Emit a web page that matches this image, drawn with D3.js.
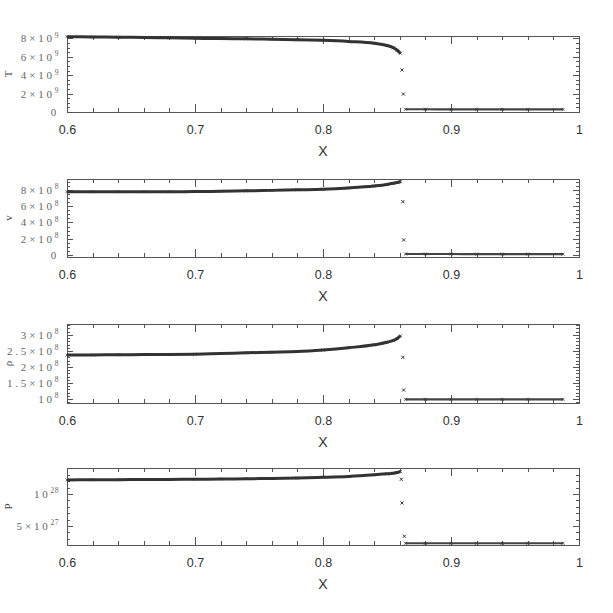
<!DOCTYPE html>
<html>
<head>
<meta charset="utf-8">
<script src="https://cdn.jsdelivr.net/npm/d3@7"></script>
<style>
  body { margin: 0; background: #fff; }
  .frame { fill: none; stroke: #555; stroke-width: 1; shape-rendering: crispEdges; }
  .tick line { stroke: #555; shape-rendering: crispEdges; }
  .xlab { font-family: "Liberation Sans", Arial, sans-serif; font-size: 12.5px; fill: #333; }
  .ylab { font-family: "Liberation Serif", "DejaVu Serif", serif; font-size: 11px; fill: #666; letter-spacing: 2.8px; }
  .title { font-family: "Liberation Sans", Arial, sans-serif; font-size: 14px; fill: #333; }
  .ytitle { font-family: "Liberation Serif", serif; font-size: 11px; fill: #444; }
</style>
</head>
<body>
<svg id="chart" width="613" height="613"></svg>
<script>
// x axis
var xMajor = [0.6, 0.7, 0.8, 0.9, 1.0];
var xTickLabels = ['0.6', '0.7', '0.8', '0.9', '1'];

// sample positions
var preX = [0.600, 0.620, 0.640, 0.660, 0.680, 0.700, 0.720, 0.740, 0.760, 0.780, 0.800, 0.820, 0.840, 0.850, 0.855, 0.858, 0.8605];
var postX = [0.8645, 0.880, 0.900, 0.920, 0.940, 0.960, 0.9875];

// T
var tPre = [8.18e9, 8.15e9, 8.12e9, 8.09e9, 8.05e9, 8.00e9, 7.97e9, 7.94e9, 7.90e9, 7.85e9, 7.78e9, 7.66e9, 7.47e9, 7.22e9, 6.97e9, 6.70e9, 6.37e9];
var tShockX = [0.8617, 0.8628];
var tShock = [4.56e9, 1.95e9];
var tPost = [0.30e9, 0.30e9, 0.29e9, 0.29e9, 0.29e9, 0.28e9, 0.28e9];
var tMajor = [0, 2e9, 4e9, 6e9, 8e9];
var tLabels = [['0', ''], ['2×10', '9'], ['4×10', '9'], ['6×10', '9'], ['8×10', '9']];

// v
var vPre = [7.79e8, 7.79e8, 7.79e8, 7.79e8, 7.79e8, 7.80e8, 7.84e8, 7.89e8, 7.95e8, 8.02e8, 8.09e8, 8.25e8, 8.49e8, 8.68e8, 8.82e8, 8.92e8, 9.02e8];
var vShockX = [0.8624, 0.8630];
var vShock = [6.56e8, 1.85e8];
var vPost = [0.12e8, 0.12e8, 0.12e8, 0.11e8, 0.11e8, 0.11e8, 0.10e8];
var vMajor = [0, 2e8, 4e8, 6e8, 8e8];
var vLabels = [['0', ''], ['2×10', '8'], ['4×10', '8'], ['6×10', '8'], ['8×10', '8']];

// rho
var rhoPre = [2.370e8, 2.375e8, 2.380e8, 2.385e8, 2.390e8, 2.400e8, 2.420e8, 2.440e8, 2.460e8, 2.480e8, 2.530e8, 2.600e8, 2.690e8, 2.770e8, 2.830e8, 2.890e8, 2.970e8];
var rhoShockX = [0.8624, 0.8630];
var rhoShock = [2.30e8, 1.28e8];
var rhoPost = [0.99e8, 0.99e8, 0.99e8, 0.99e8, 0.99e8, 0.99e8, 0.99e8];
var rhoMajor = [1e8, 1.5e8, 2e8, 2.5e8, 3e8];
var rhoLabels = [['10', '8'], ['1.5×10', '8'], ['2×10', '8'], ['2.5×10', '8'], ['3×10', '8']];

// P
var pPre = [1.220e28, 1.222e28, 1.224e28, 1.226e28, 1.228e28, 1.230e28, 1.234e28, 1.238e28, 1.243e28, 1.248e28, 1.260e28, 1.275e28, 1.300e28, 1.315e28, 1.325e28, 1.335e28, 1.350e28];
var pShockX = [0.8612, 0.8617, 0.8636];
var pShock = [1.23e28, 0.86e28, 0.34e28];
var pPost = [2.30e27, 2.30e27, 2.30e27, 2.30e27, 2.30e27, 2.30e27, 2.30e27];
var pMajor = [5e27, 1e28];
var pLabels = [['5×10', '27'], ['10', '28']];

var svg = d3.select('#chart');
var x = d3.scaleLinear().domain([0.6, 1.0]).range([67, 579]);
var xMinor = d3.range(0.62, 1.0, 0.02).filter(function(d) { return Math.abs(d * 10 - Math.round(d * 10)) > 1e-6; });

var panels = [
  {title: 'T', top: 36, bottom: 112, domain: [0, 8.25e9], major: tMajor, labels: tLabels, minorStep: 0.5e9,
    pre: tPre, shockX: tShockX, shock: tShock, post: tPost},
  {title: 'v', top: 179, bottom: 257, domain: [-0.25e8, 9.35e8], major: vMajor, labels: vLabels, minorStep: 0.5e8,
    pre: vPre, shockX: vShockX, shock: vShock, post: vPost},
  {title: 'ρ', top: 324, bottom: 403, domain: [0.875e8, 3.34e8], major: rhoMajor, labels: rhoLabels, minorStep: 0.1e8,
    pre: rhoPre, shockX: rhoShockX, shock: rhoShock, post: rhoPost},
  {title: 'P', top: 468, bottom: 545, domain: [2.03e27, 1.406e28], major: pMajor, labels: pLabels, minorStep: 1e27,
    pre: pPre, shockX: pShockX, shock: pShock, post: pPost}
];

function cross(g, px, py, s, w) {
  g.append('path')
    .attr('d', 'M' + (px - s) + ',' + (py - s) + 'L' + (px + s) + ',' + (py + s) +
      'M' + (px - s) + ',' + (py + s) + 'L' + (px + s) + ',' + (py - s))
    .attr('stroke', '#333').attr('stroke-width', w).attr('fill', 'none');
}

function drawPanel(p) {
  var y = d3.scaleLinear().domain(p.domain).range([p.bottom, p.top]);
  var g = svg.append('g');
  var x0 = x.range()[0], x1 = x.range()[1];
  var yMinor = d3.range(Math.ceil(p.domain[0] / p.minorStep) * p.minorStep, p.domain[1], p.minorStep)
    .filter(function(d) { return p.major.every(function(m) { return Math.abs(m - d) > p.minorStep * 0.1; }); });

  function strip(a) { a.select('.domain').remove(); }

  // x ticks, bottom and top, pointing inwards
  g.append('g').attr('transform', 'translate(0,' + p.bottom + ')')
    .call(d3.axisBottom(x).tickValues(xMinor).tickSize(-4).tickFormat('')).call(strip);
  g.append('g').attr('transform', 'translate(0,' + p.bottom + ')')
    .call(d3.axisBottom(x).tickValues(xMajor).tickSize(-8).tickPadding(13)
      .tickFormat(function(d, i) { return xTickLabels[i]; }))
    .call(strip)
    .selectAll('text').attr('class', 'xlab').attr('font-size', null).attr('font-family', null).attr('fill', null);
  g.append('g').attr('transform', 'translate(0,' + p.top + ')')
    .call(d3.axisTop(x).tickValues(xMinor).tickSize(-4).tickFormat('')).call(strip);
  g.append('g').attr('transform', 'translate(0,' + p.top + ')')
    .call(d3.axisTop(x).tickValues(xMajor).tickSize(-8).tickFormat('')).call(strip);

  // y ticks, left and right
  g.append('g').attr('transform', 'translate(' + x0 + ',0)')
    .call(d3.axisLeft(y).tickValues(yMinor).tickSize(-3).tickFormat('')).call(strip);
  g.append('g').attr('transform', 'translate(' + x0 + ',0)')
    .call(d3.axisLeft(y).tickValues(p.major).tickSize(-6).tickFormat('')).call(strip);
  g.append('g').attr('transform', 'translate(' + x1 + ',0)')
    .call(d3.axisRight(y).tickValues(yMinor).tickSize(-3).tickFormat('')).call(strip);
  g.append('g').attr('transform', 'translate(' + x1 + ',0)')
    .call(d3.axisRight(y).tickValues(p.major).tickSize(-6).tickFormat('')).call(strip);

  // y tick labels with superscript exponents
  p.major.forEach(function(v, i) {
    var t = g.append('text').attr('class', 'ylab')
      .attr('x', 59).attr('y', y(v) + 4).attr('text-anchor', 'end');
    t.append('tspan').text(p.labels[i][0]);
    if (p.labels[i][1]) {
      t.append('tspan').attr('dy', -4.5).attr('font-size', '7.5px').attr('letter-spacing', '0.5px').text(p.labels[i][1]);
    }
  });

  g.append('rect').attr('class', 'frame')
    .attr('x', x0).attr('y', p.top).attr('width', x1 - x0).attr('height', p.bottom - p.top);

  // data: dense band before the shock, isolated points in it, flat band after
  var pre = preX.map(function(d, i) { return [d, p.pre[i]]; });
  var post = postX.map(function(d, i) { return [d, p.post[i]]; });
  var line = d3.line().x(function(d) { return x(d[0]); }).y(function(d) { return y(d[1]); }).curve(d3.curveMonotoneX);
  g.append('path').datum(pre).attr('d', line)
    .attr('fill', 'none').attr('stroke', '#333').attr('stroke-width', 3);
  g.append('path').datum(post).attr('d', line)
    .attr('fill', 'none').attr('stroke', '#444').attr('stroke-width', 2.2);
  pre.concat(post).forEach(function(d) { cross(g, x(d[0]), y(d[1]), 1.5, 0.8); });
  p.shockX.forEach(function(sx, i) { cross(g, x(sx), y(p.shock[i]), 1.6, 1); });

  // titles
  g.append('text').attr('class', 'title').attr('text-anchor', 'middle')
    .attr('x', (x0 + x1) / 2).attr('y', p.bottom + 44).text('X');
  g.append('text').attr('class', 'ytitle').attr('text-anchor', 'middle')
    .attr('transform', 'translate(12,' + ((p.top + p.bottom) / 2) + ') rotate(-90)').text(p.title);
}

panels.forEach(drawPanel);
</script>
</body>
</html>
